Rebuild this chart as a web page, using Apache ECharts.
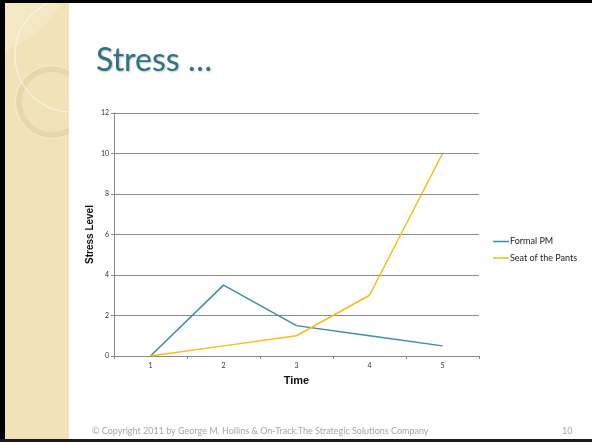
<!DOCTYPE html>
<html>
<head>
<meta charset="utf-8">
<script src="https://cdn.jsdelivr.net/npm/echarts@6/dist/echarts.min.js"></script>
<style>
html,body{margin:0;padding:0;background:#fff;}
#c{width:592px;height:442px;}
</style>
</head>
<body>
<div id="c"></div>
<script>
const categories = ['1', '2', '3', '4', '5'];
const formalPM = [0, 3.5, 1.5, 1, 0.5];
const seatOfThePants = [0, 0.5, 1, 3, 10];
const seriesNames = ['Formal PM', 'Seat of the Pants'];
const titleText = 'Stress …';
const footerText = '© Copyright 2011 by George M. Hollins & On-Track:The Strategic Solutions Company';
const pageNumber = '10';

const chart = echarts.init(document.getElementById('c'), null, {renderer: 'canvas'});
const labelFont = 'Lato, "DejaVu Sans", sans-serif';
const boldFont = '"Liberation Sans", Arial, sans-serif';

chart.setOption({
  backgroundColor: '#ffffff',
  animation: false,
  title: {
    text: titleText,
    left: 91,
    top: 40,
    textStyle: {
      color: '#2f7383',
      fontFamily: labelFont,
      fontWeight: 'normal',
      fontSize: 32,
      textShadowColor: 'rgba(0,0,0,0.25)',
      textShadowBlur: 2,
      textShadowOffsetX: 1,
      textShadowOffsetY: 1
    }
  },
  legend: {
    orient: 'vertical',
    left: 488,
    top: 232,
    icon: 'rect',
    itemWidth: 16,
    itemHeight: 1.5,
    itemGap: 7.5,
    data: seriesNames,
    textStyle: {fontFamily: labelFont, fontSize: 9, color: '#222', padding: [0, 0, 0, -4]}
  },
  grid: {left: 114, right: 113, top: 113, bottom: 86, containLabel: false},
  xAxis: {
    type: 'category',
    data: categories,
    boundaryGap: true,
    name: 'Time',
    nameLocation: 'middle',
    nameGap: 19,
    nameMoveOverlap: false,
    nameTextStyle: {fontFamily: boldFont, fontWeight: 'bold', fontSize: 11, color: '#111'},
    axisLine: {lineStyle: {color: '#8a8a8a', width: 1}},
    axisTick: {show: true, length: 3, lineStyle: {color: '#8a8a8a'}},
    axisLabel: {fontFamily: labelFont, fontSize: 7, color: '#333', margin: 6}
  },
  yAxis: {
    type: 'value',
    min: 0,
    max: 12,
    interval: 2,
    name: 'Stress Level',
    nameLocation: 'middle',
    nameRotate: 90,
    nameGap: 19,
    nameMoveOverlap: false,
    nameTextStyle: {fontFamily: boldFont, fontWeight: 'bold', fontSize: 10, color: '#111'},
    axisLine: {show: true, lineStyle: {color: '#8a8a8a', width: 1}},
    axisTick: {show: true, length: 3, lineStyle: {color: '#8a8a8a'}},
    axisLabel: {fontFamily: labelFont, fontSize: 7, color: '#333', margin: 5},
    splitLine: {show: true, lineStyle: {color: '#8c8c8c', width: 1}}
  },
  series: [
    {
      name: seriesNames[0],
      type: 'line',
      data: formalPM,
      symbol: 'none',
      lineStyle: {color: '#3a8ea5', width: 1.5},
      itemStyle: {color: '#3a8ea5'}
    },
    {
      name: seriesNames[1],
      type: 'line',
      data: seatOfThePants,
      symbol: 'none',
      lineStyle: {color: '#fdb913', width: 1.5},
      itemStyle: {color: '#fdb913'}
    }
  ],
  graphic: [
    // decorative strip
    {type: 'rect', z: -20, shape: {x: 5, y: 0, width: 64, height: 442}, style: {fill: '#f2e2b8'}},
    {type: 'circle', z: -19, shape: {cx: -40, cy: -60, r: 120}, style: {fill: 'rgba(255,255,255,0.18)'}},
    {type: 'circle', z: -18, shape: {cx: 52, cy: 102, r: 33}, style: {fill: 'none', stroke: 'rgba(200,178,125,0.22)', lineWidth: 6}},
    {type: 'circle', z: -18, shape: {cx: 52, cy: 102, r: 36.5}, style: {fill: 'none', stroke: 'rgba(255,255,255,0.35)', lineWidth: 1}},
    {type: 'circle', z: -17, shape: {cx: 72, cy: 55, r: 57}, style: {fill: 'none', stroke: 'rgba(255,255,255,0.55)', lineWidth: 1.2}},
    {type: 'rect', z: -16, shape: {x: 69, y: 0, width: 523, height: 442}, style: {fill: '#ffffff'}},
    // frame
    {type: 'rect', z: 10, shape: {x: 0, y: 0, width: 5, height: 442}, style: {fill: '#000'}},
    {type: 'rect', z: 10, shape: {x: 0, y: 0, width: 592, height: 3}, style: {fill: '#000'}},
    {type: 'rect', z: 10, shape: {x: 0, y: 439, width: 592, height: 3}, style: {fill: '#1a1a1a'}},
    // footer
    {type: 'text', z: 5, left: 92, top: 427, style: {text: footerText, fontFamily: labelFont, fontSize: 9, fill: '#a6a6a6'}},
    {type: 'text', z: 5, left: 562, top: 427, style: {text: pageNumber, fontFamily: labelFont, fontSize: 9, fill: '#a6a6a6'}}
  ]
});
</script>
</body>
</html>
